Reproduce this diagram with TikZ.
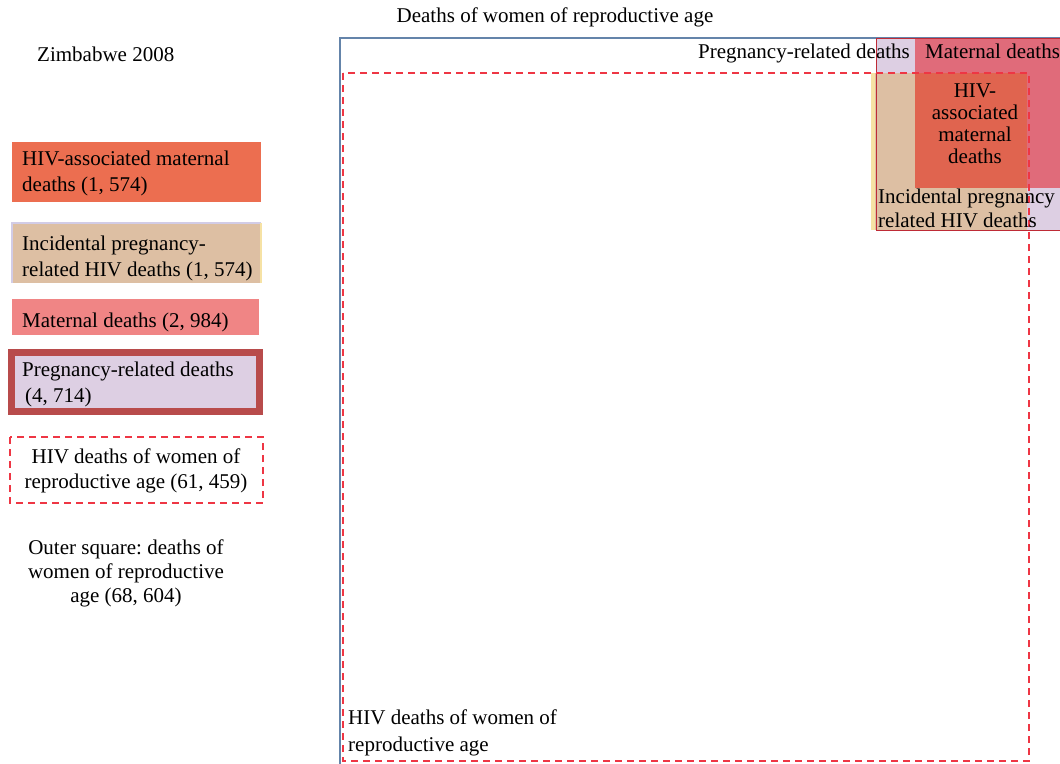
\documentclass[tikz,border=0pt]{standalone}
\usepackage{fontspec}
\setmainfont{Liberation Serif}
\frenchspacing
\definecolor{hivmat}{HTML}{EC6E50}
\definecolor{hivmatin}{HTML}{E0644F}
\definecolor{incid}{HTML}{DDBFA3}
\definecolor{mat}{HTML}{F08585}
\definecolor{matin}{HTML}{E06B7A}
\definecolor{preg}{HTML}{DDCFE3}
\definecolor{pregrim}{HTML}{B84B4B}
\definecolor{hivred}{HTML}{EE3644}
\definecolor{outer}{HTML}{6484AA}
\definecolor{stripe}{HTML}{F6E2A4}
\definecolor{edge}{HTML}{D2CCE6}

\begin{document}
\begin{tikzpicture}[x=1pt,y=-1pt,
    every node/.style={font=\fontsize{21}{25}\selectfont, inner sep=0pt},
    hivline/.style={draw=hivred, dash pattern=on 7pt off 5pt, line width=1.2pt}]
            \useasboundingbox (0,0) rectangle (1060,763);
            \clip (0,0) rectangle (1060,763);

            % big square
            \draw[outer, line width=1.3pt] (340,38) rectangle (1090,790);
            \fill[preg] (876,38) rectangle (1090,230);
            \fill[matin] (915,38) rectangle (1090,188);
            \fill[incid] (875,73) rectangle (1027,230);
            \draw[stripe, line width=4pt] (872.5,73) -- (872.5,230);
            \fill[hivmatin] (915,73) rectangle (1027,188);
            \draw[hivred!80!black, line width=1pt] (876,38) rectangle (1090,230);
            \draw[hivline] (343,73) rectangle (1029,761);

            % labels inside (base = last line)
            \node[anchor=base] (title) at (555,22) {Deaths of women of reproductive age};
            \node[anchor=base east] (preglabel) at (910,58) {Pregnancy-related deaths};
            \node[anchor=base west] (matlabel) at (925,58) {Maternal deaths};
            \node[anchor=base, align=center, font=\fontsize{21}{22}\selectfont] (hivmatlabel) at (975,163)
                {HIV-\\associated\\maternal\\deaths};
            \node[anchor=base west, align=left, font=\fontsize{21}{24}\selectfont] (incidlabel) at (878,227)
                {Incidental pregnancy\\related HIV deaths};
            \node[anchor=base west, align=left, font=\fontsize{21}{27}\selectfont] (hivlabel) at (348,751)
                {HIV deaths of women of\\reproductive age};

            % legend
            \node[anchor=base west] (country) at (37,61) {Zimbabwe 2008};
                \foreach \c/\t/\b/\r in {hivmat/142/202/261, incid/223/283/261, mat/299/335/259}
                    \fill[\c] (12,\t) rectangle (\r,\b);
            \draw[edge, line width=1.2pt] (12,283) -- (12,223) -- (261,223);
            \draw[stripe, line width=1.2pt] (261,223) -- (261,283);
            \draw[pregrim, fill=preg, line width=7pt] (11.5,352.5) rectangle (259.5,411.5);
            \draw[hivline] (10,437) rectangle (263,503);

            \node[anchor=base west, align=left, font=\fontsize{21}{26}\selectfont] (keyhivmat) at (22,191)
                {HIV-associated maternal\\deaths (1, 574)};
            \node[anchor=base west, align=left, font=\fontsize{21}{26}\selectfont] (keyincid) at (22,276)
                {Incidental pregnancy-\\related HIV deaths (1, 574)};
            \node[anchor=base west] (keymat) at (22,327) {Maternal deaths (2, 984)};
            \node[anchor=base west, align=left, font=\fontsize{21}{26}\selectfont] (keypreg) at (22,402)
                {Pregnancy-related deaths\\\hspace*{3pt}(4, 714)};
            \node[anchor=base, align=center] (keyhiv) at (136,488)
                {HIV deaths of women of\\reproductive age (61, 459)};
            \node[anchor=base, align=center, font=\fontsize{21}{24}\selectfont] (keyouter) at (126,602)
                {Outer square: deaths of\\women of reproductive\\age (68, 604)};
             \end{tikzpicture}
\end{document}
